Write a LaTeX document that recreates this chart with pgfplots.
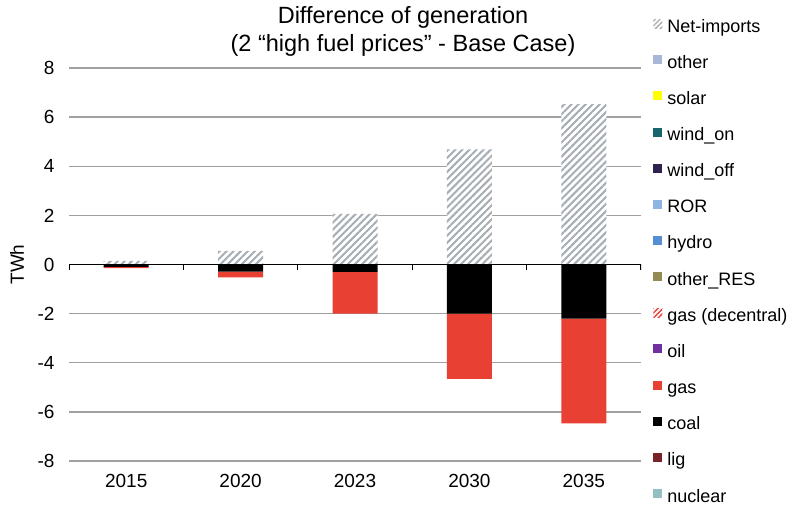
\documentclass[border=0pt]{standalone}
\usepackage{fontspec}
\setmainfont{Liberation Sans}
\usepackage{pgfplots}
\usepackage{pgfplotstable}
\pgfplotsset{compat=1.18}
\usetikzlibrary{patterns.meta}
\definecolor{hatchgray}{RGB}{166,173,179}
\definecolor{cother}{RGB}{169,183,215}
\definecolor{csolar}{RGB}{255,255,0}
\definecolor{cwindon}{RGB}{22,102,110}
\definecolor{cwindoff}{RGB}{48,34,80}
\definecolor{cror}{RGB}{141,180,226}
\definecolor{chydro}{RGB}{85,142,213}
\definecolor{cothres}{RGB}{148,138,84}
\definecolor{cgas}{RGB}{233,64,52}
\definecolor{coil}{RGB}{112,48,160}
\definecolor{clig}{RGB}{119,35,40}
\definecolor{cnuc}{RGB}{147,192,192}
\definecolor{gridgray}{RGB}{160,160,160}

\pgfplotstableread{
x net coal gas
0 0.15 -0.10 -0.05
1 0.55 -0.29 -0.23
2 2.06 -0.30 -1.70
3 4.69 -2.00 -2.66
4 6.53 -2.20 -4.27
}\gendata

\pgfplotsset{
  common/.style={scale only axis, width=572bp, height=393bp,
    xmin=-0.5, xmax=4.5, ymin=-8, ymax=8},
  sqleg/.style={legend image code/.code={\path[##1] (0bp,-0.5bp) rectangle (9bp,8.5bp);}},
}

\begin{document}
\begin{tikzpicture}
\useasboundingbox (-69bp,-45bp) rectangle (731bp,461bp);
\begin{axis}[common,
  axis line style={draw=none},
  major tick length=0pt,
  ytick={-8,-6,...,8},
  xtick={0,...,4}, xticklabels={2015,2020,2023,2030,2035},
  ymajorgrids, grid style={gridgray, line width=1.4bp},
  tick label style={font=\fontsize{19bp}{22bp}\selectfont},
  /pgf/number format/assume math mode=true,
  yticklabel style={xshift=-11bp},
  xticklabel style={yshift=-10bp},
  ybar stacked, bar width=45bp,
]
\addplot[fill=black, draw=none, forget plot] table[x=x,y=coal]{\gendata};
\addplot[fill=cgas, draw=none, forget plot] table[x=x,y=gas]{\gendata};
\end{axis}
\begin{axis}[common, hide axis,
  legend cell align=left,
  legend style={draw=none, fill=none, at={(axis description cs:1.016,1.13)}, anchor=north west,
    font=\fontsize{18bp}{21bp}\selectfont, row sep=19.15bp, column sep=5bp,
    nodes={inner sep=0pt, text height=13bp, text depth=4bp}},
]
\addplot[ybar, bar width=45bp, bar shift=0pt, draw=none, fill=white,
  postaction={pattern={Lines[angle=45,distance=5bp,line width=2bp]}, pattern color=hatchgray},
  forget plot] table[x=x,y=net]{\gendata};
\draw[black, line width=1.5bp] (axis cs:-0.5,0) -- (axis cs:4.5,0);
\draw[black, line width=1.2bp] (axis cs:-0.5,0) -- ([yshift=-6bp]axis cs:-0.5,0);
\draw[black, line width=1.2bp] (axis cs:0.5,0) -- ([yshift=-6bp]axis cs:0.5,0);
\draw[black, line width=1.2bp] (axis cs:1.5,0) -- ([yshift=-6bp]axis cs:1.5,0);
\draw[black, line width=1.2bp] (axis cs:2.5,0) -- ([yshift=-6bp]axis cs:2.5,0);
\draw[black, line width=1.2bp] (axis cs:3.5,0) -- ([yshift=-6bp]axis cs:3.5,0);
\draw[black, line width=1.2bp] (axis cs:4.5,0) -- ([yshift=-6bp]axis cs:4.5,0);
\addlegendimage{sqleg, draw=none, pattern={Lines[angle=45,distance=3.5bp,line width=1.4bp]}, pattern color=hatchgray}
\addlegendentry{Net-imports}
\addlegendimage{sqleg, draw=none, fill=cother}
\addlegendentry{other}
\addlegendimage{sqleg, draw=none, fill=csolar}
\addlegendentry{solar}
\addlegendimage{sqleg, draw=none, fill=cwindon}
\addlegendentry{wind\_on}
\addlegendimage{sqleg, draw=none, fill=cwindoff}
\addlegendentry{wind\_off}
\addlegendimage{sqleg, draw=none, fill=cror}
\addlegendentry{ROR}
\addlegendimage{sqleg, draw=none, fill=chydro}
\addlegendentry{hydro}
\addlegendimage{sqleg, draw=none, fill=cothres}
\addlegendentry{other\_RES}
\addlegendimage{sqleg, draw=none, pattern={Lines[angle=45,distance=3.5bp,line width=1.4bp]}, pattern color=cgas}
\addlegendentry{gas (decentral)}
\addlegendimage{sqleg, draw=none, fill=coil}
\addlegendentry{oil}
\addlegendimage{sqleg, draw=none, fill=cgas}
\addlegendentry{gas}
\addlegendimage{sqleg, draw=none, fill=black}
\addlegendentry{coal}
\addlegendimage{sqleg, draw=none, fill=clig}
\addlegendentry{lig}
\addlegendimage{sqleg, draw=none, fill=cnuc}
\addlegendentry{nuclear}
\end{axis}
\node[align=center, font=\fontsize{23.5bp}{28bp}\selectfont] at (334bp,430bp)
  {Difference of generation\\(2 “high fuel prices” - Base Case)};
\node[rotate=90, font=\fontsize{19bp}{22bp}\selectfont] at (-52bp,196.5bp) {TWh};
\end{tikzpicture}
\end{document}
